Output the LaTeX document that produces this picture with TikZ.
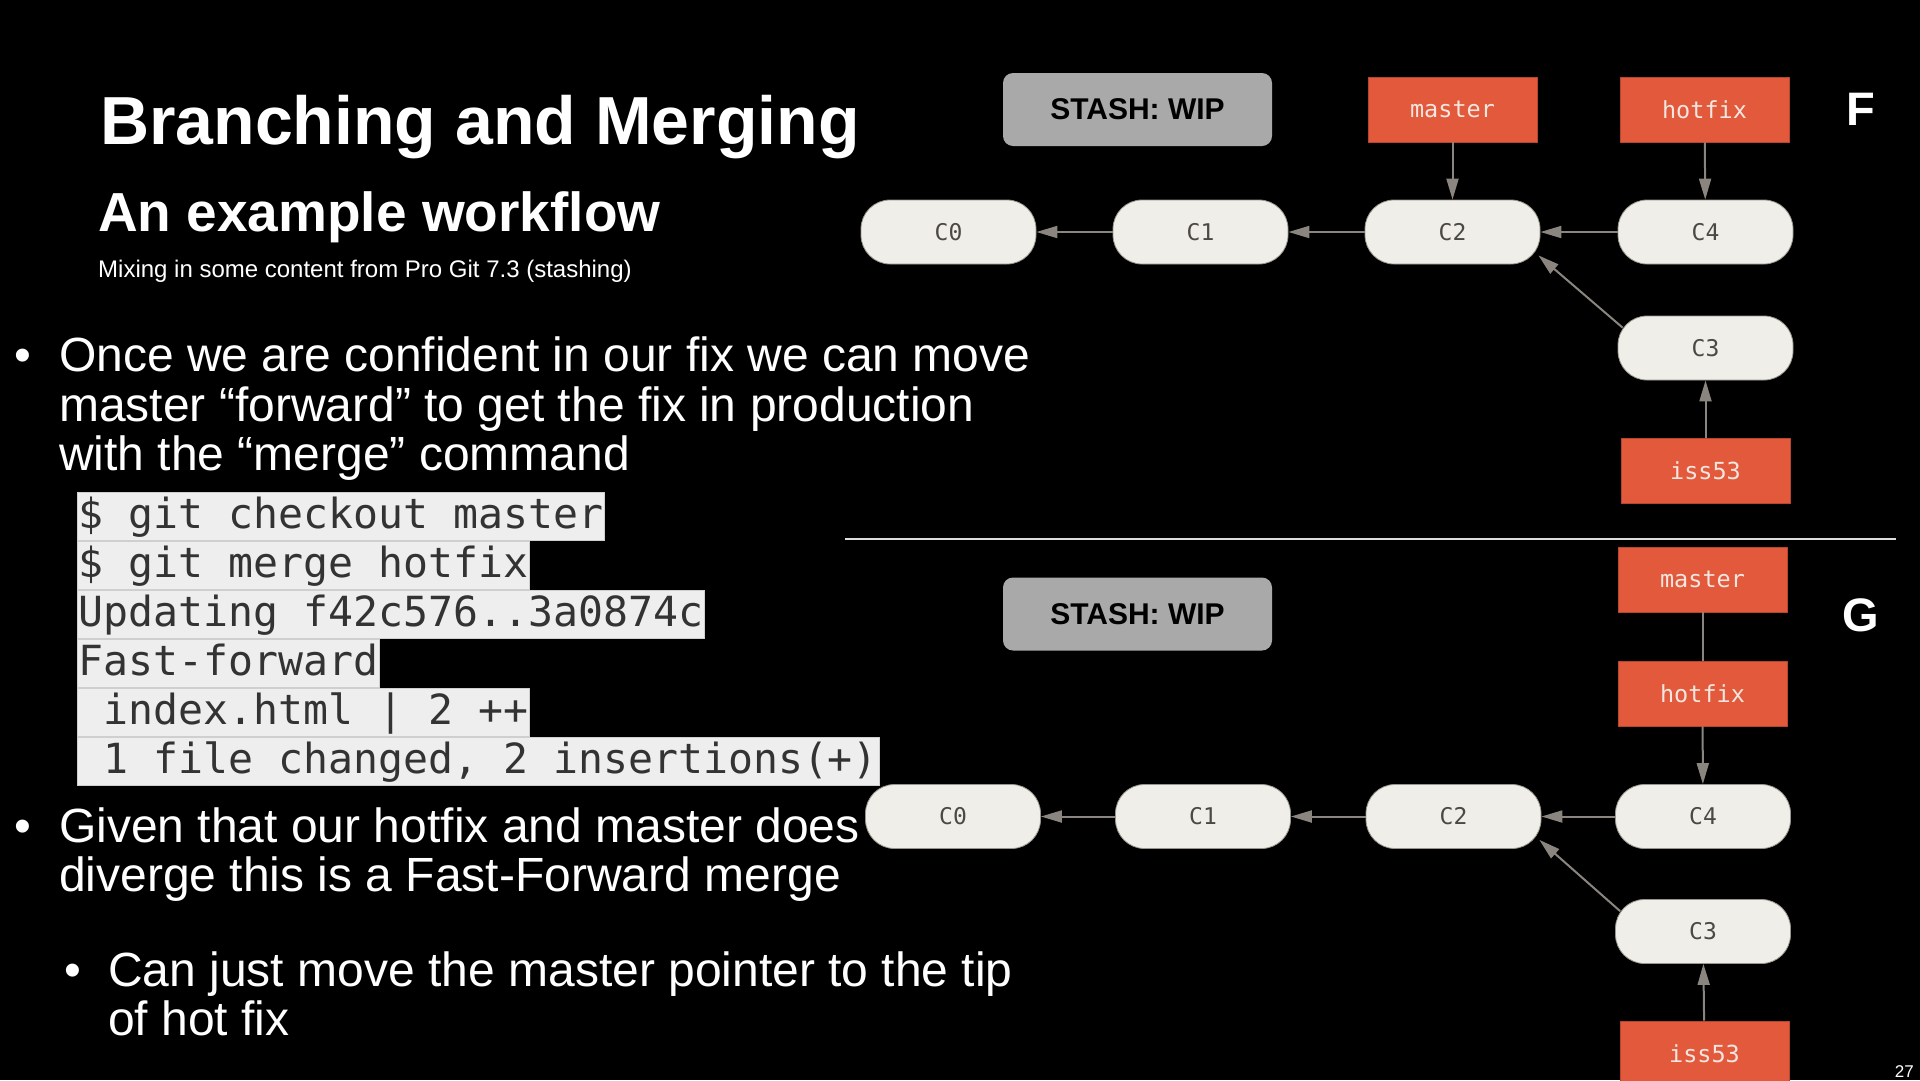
\documentclass[tikz,border=0pt]{standalone}
\usepackage{fontspec}
\setmainfont{Liberation Sans}
\setmonofont{DejaVu Sans Mono}
\usetikzlibrary{arrows.meta,calc}

\definecolor{branchred}{HTML}{E25A3B}
\definecolor{branchedge}{HTML}{B8462D}
\definecolor{branchtext}{HTML}{F2E6E1}
\definecolor{commitfill}{HTML}{EFEEE8}
\definecolor{commitedge}{HTML}{9A958C}
\definecolor{committext}{HTML}{4C4843}
\definecolor{linkgray}{HTML}{8A867F}
\definecolor{stashgray}{HTML}{A9A9A9}
\definecolor{codebg}{HTML}{EEEEEE}
\definecolor{coderule}{HTML}{CFCFCF}
\definecolor{codetext}{HTML}{333333}
\definecolor{rulegray}{HTML}{DDDDDD}

\newcommand\fsz[2]{\fontsize{#1}{#2}\selectfont}

\tikzset{
  commit/.style={fill=commitfill, draw=commitedge, line width=0.8pt,
    rounded corners=29pt, minimum width=175pt, minimum height=64pt,
    inner sep=0pt, font=\ttfamily\fsz{23}{27}, text=committext},
  branch/.style={fill=branchred, draw=branchedge, line width=0.8pt,
    minimum width=169pt, minimum height=65pt,
    inner sep=0pt, font=\ttfamily\fsz{23.5}{28}, text=branchtext},
  stashbox/.style={fill=stashgray, rounded corners=10pt, minimum width=269pt,
    minimum height=73pt, inner sep=0pt, font=\bfseries\fsz{30}{34}, text=black},
  link/.style={draw=linkgray, line width=2pt, -{Triangle[length=21pt,width=12pt]}},
  plainlink/.style={draw=linkgray, line width=2pt},
  codeline/.style={anchor=north west, fill=codebg, draw=coderule, line width=1pt,
    inner xsep=1pt, inner ysep=0pt, text height=36pt, text depth=12pt,
    font=\ttfamily\fsz{41.5}{49}, text=codetext},
  body/.style={anchor=base west, inner sep=0pt, text=white, font=\fsz{48}{50}},
  panel/.style={inner sep=0pt, text=white, font=\bfseries\fsz{47}{50}},
}

\begin{document}
\begin{tikzpicture}[x={(1pt,0)}, y={(0,-1pt)}]
  % slide background
  \fill[black] (0,0) rectangle (1920,1080);
  \useasboundingbox (0,0) rectangle (1920,1080);

  % headings
  \node[anchor=base west, inner sep=0pt, text=white, font=\bfseries\fsz{68}{72}]
    (title) at (100,144) {Branching and Merging};
  \node[anchor=base west, inner sep=0pt, text=white, font=\bfseries\fsz{55}{60}]
    (subtitle) at (98,231) {An example workflow};
  \node[anchor=base west, inner sep=0pt, text=white, font=\fsz{24}{26}]
    (source) at (98,277) {Mixing in some content from Pro Git 7.3 (stashing)};

  % first bullet
  \node[body] (b1dot) at (14,371) {•};
  \node[body] (b1l1) at (59,371) {Once we are confident in our fix we can move};
  \node[body] (b1l2) at (59,421) {master “forward” to get the fix in production};
  \node[body] (b1l3) at (59,470) {with the “merge” command};

  % terminal session, one shaded strip per line
  \node[codeline] (code1) at (77,492) {\$ git checkout master};
  \node[codeline] (code2) at (77,541) {\$ git merge hotfix};
  \node[codeline] (code3) at (77,590) {Updating f42c576..3a0874c};
  \node[codeline] (code4) at (77,639) {Fast-forward};
  \node[codeline] (code5) at (77,688) {\hphantom{0}index.html | 2 ++};
  \node[codeline] (code6) at (77,737) {\hphantom{0}1 file changed, 2 insertions(+)};

  % second bullet
  \node[body] (b2dot) at (14,842) {•};
  \node[body] (b2l1) at (59,842) {Given that our hotfix and master does};
  \node[body] (b2l2) at (59,891) {diverge this is a Fast-Forward merge};

  % sub-bullet
  \node[body] (b3dot) at (64,986) {•};
  \node[body] (b3l1) at (108,986) {Can just move the master pointer to the tip};
  \node[body] (b3l2) at (108,1035) {of hot fix};

  % ---------- panel F: before the merge ----------
  \node[stashbox] (f-stash) at (1137.5,109.5) {STASH: WIP};
  \node[branch] (f-master) at (1452.5,109.5) {master};
  \node[branch] (f-hotfix) at (1704.5,109.5) {hotfix};
  \node[commit] (f-c0) at (948.5,232) {C0};
  \node[commit] (f-c1) at (1200.5,232) {C1};
  \node[commit] (f-c2) at (1452.5,232) {C2};
  \node[commit] (f-c4) at (1705.5,232) {C4};
  \node[commit] (f-c3) at (1705.5,348) {C3};
  \node[branch] (f-iss53) at (1705.5,470.5) {iss53};
  \node[panel] (f-label) at (1861,109) {F};

  \draw[link] (f-c1) -- (f-c0);
  \draw[link] (f-c2) -- (f-c1);
  \draw[link] (f-c4) -- (f-c2);
  \draw[link] (f-master) -- (f-c2);
  \draw[link] (f-hotfix) -- (f-c4);
  \draw[link] (f-iss53) -- (f-c3);
  \draw[link] ($(f-c3.north west)+(5,12)$) -- ($(f-c2.south east)+(-2,-9)$);

  % divider between the two states
  \coordinate (rule-l) at (845,539);
  \coordinate (rule-r) at (1896,539);
  \draw[rulegray, line width=2pt] (rule-l) -- (rule-r);

  % ---------- panel G: after the fast-forward ----------
  \node[stashbox] (g-stash) at (1137.5,614) {STASH: WIP};
  \node[branch] (g-master) at (1702.5,579.5) {master};
  \node[branch] (g-hotfix) at (1702.5,693.5) {hotfix};
  \node[commit] (g-c0) at (953,816.5) {C0};
  \node[commit] (g-c1) at (1203,816.5) {C1};
  \node[commit] (g-c2) at (1453.5,816.5) {C2};
  \node[commit] (g-c4) at (1703,816.5) {C4};
  \node[commit] (g-c3) at (1703,931.5) {C3};
  \node[branch] (g-iss53) at (1704.5,1053.5) {iss53};
  \node[panel] (g-label) at (1861,615) {G};

  \draw[link] (g-c1) -- (g-c0);
  \draw[link] (g-c2) -- (g-c1);
  \draw[link] (g-c4) -- (g-c2);
  \draw[plainlink] (g-master) -- (g-hotfix);
  \draw[link] (g-hotfix) -- (g-c4);
  \draw[link] (g-iss53) -- (g-c3);
  \draw[link] ($(g-c3.north west)+(5,12)$) -- ($(g-c2.south east)+(-2,-9)$);

  % slide number
  \node[anchor=base east, inner sep=0pt, text=white, font=\fsz{17}{19}]
    (pageno) at (1914,1077) {27};
\end{tikzpicture}
\end{document}
